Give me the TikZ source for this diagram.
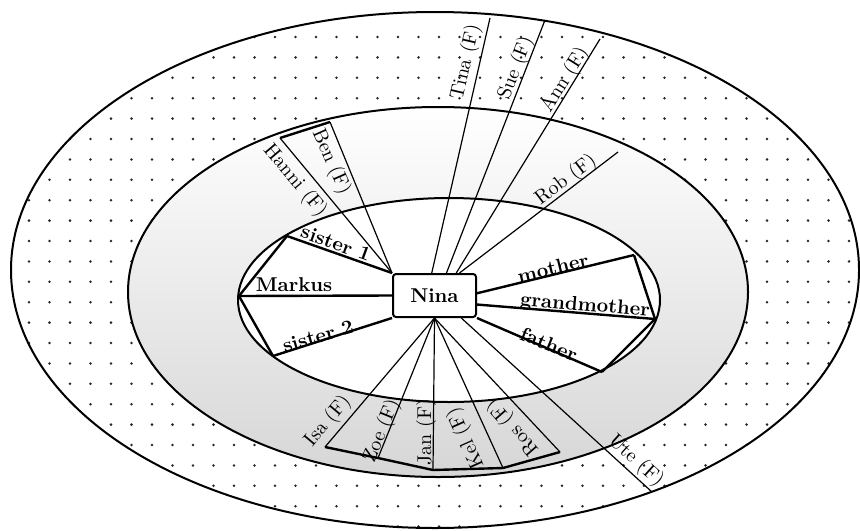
\documentclass[tikz,border=0pt]{standalone}

\begin{document}
\begin{tikzpicture}[
  x=0.5pt,
  y=0.5pt,
  ring/.style={
    line width=1pt
  },
  person/.style={
    rectangle,
    draw,
    line width=1pt,
    rounded corners=1.5pt,
    fill=white,
    minimum width=41.5pt,
    minimum height=21.5pt,
    font=\bfseries
  },
  rel/.style={
    line width=1.2pt
  },
  frd/.style={
    line width=0.6pt
  },
  rlbl/.style={
    font=\bfseries,
    inner sep=0pt
  },
  flbl/.style={
    inner sep=0pt
  },
  spot/.style={
    fill=black!85
  }
]

\useasboundingbox (0,0) rectangle (860,-530);

% =========================================================
% KREISE
% =========================================================

\begin{scope}
  \clip (435,-270) ellipse [x radius=424, y radius=258];
  \foreach \i in {0,...,40}
    \foreach \j in {0,...,24}
      \fill[spot] (29+20.5*\i,-37-20.4*\j) circle [radius=0.7pt];
\end{scope}

\draw[ring] (435,-270) ellipse [x radius=424, y radius=258];

\shade[top color=white, middle color=gray!6, bottom color=gray!32]
  (438,-292) ellipse [x radius=310, y radius=185];
\draw[ring] (438,-292) ellipse [x radius=310, y radius=185];

\fill[white] (449,-300) ellipse [x radius=211, y radius=102];
\draw[ring] (449,-300) ellipse [x radius=211, y radius=102];

% =========================================================
% NINA
% =========================================================

\node[person] (nina) at (434.5,-295.5) {Nina};

% --- Ecken auf dem inneren Kreis ---

\coordinate (sis1) at (287,-236);
\coordinate (markus) at (239,-296);
\coordinate (sis2) at (273,-356);
\coordinate (mother) at (634,-255);
\coordinate (gmother) at (655,-319);
\coordinate (father) at (602,-372);

% --- Enden der Freundeslinien ---

\coordinate (hanni) at (280,-138);
\coordinate (ben) at (330,-122);
\coordinate (tina) at (490,-18);
\coordinate (sue) at (545,-20);
\coordinate (ann) at (600,-39);
\coordinate (rob) at (618,-152);
\coordinate (isa) at (325,-447);
\coordinate (zoe) at (378,-458);
\coordinate (jan) at (433,-470);
\coordinate (kel) at (503,-468);
\coordinate (ros) at (560,-452);
\coordinate (ute) at (652,-492);

% =========================================================
% FAMILIE
% =========================================================

\draw[rel] (nina.north west) -- (sis1);
\draw[rel] (nina.west) -- (markus);
\draw[rel] (nina.south west) -- (sis2);
\draw[rel] (sis1) -- (markus) -- (sis2);

\draw[rel] (nina.3) -- (mother);
\draw[rel] (nina.-12) -- (gmother);
\draw[rel] (nina.south east) -- (father);
\draw[rel] (mother) -- (gmother) -- (father);

\node[rlbl, rotate=-20] (l-sis1) at (336,-243) {sister 1};
\node[rlbl] (l-markus) at (294,-285) {Markus};
\node[rlbl, rotate=16] (l-sis2) at (318,-336) {sister 2};
\node[rlbl, rotate=13.5] (l-mother) at (553,-268) {mother};
\node[rlbl, rotate=-5] (l-gmother) at (585,-306) {grandmother};
\node[rlbl, rotate=-22] (l-father) at (549,-344) {father};

% =========================================================
% FREUNDE
% =========================================================

\draw[frd] (nina.north west) -- (hanni);
\draw[frd] (nina.north west) -- (ben);
\draw[rel] (hanni) -- (ben);
\draw[frd] (nina.97) -- (tina);
\draw[frd] (nina.62) -- (sue);
\draw[frd] (nina.46) -- (ann);
\draw[frd] (nina.42) -- (rob);

\draw[frd] (nina.south) -- (isa);
\draw[frd] (nina.south) -- (zoe);
\draw[frd] (nina.south) -- (jan);
\draw[frd] (nina.south) -- (kel);
\draw[frd] (nina.south) -- (ros);
\draw[frd] (nina.-40) -- (ute);
\draw[rel] (isa) -- (zoe) -- (jan) -- (kel) -- (ros);

\node[flbl, rotate=-50] (l-hanni) at (295,-181) {Hanni (F)};
\node[flbl, rotate=-66] (l-ben) at (331,-162) {Ben (F)};
\node[flbl, rotate=77] (l-tina) at (466,-62) {Tina (F)};
\node[flbl, rotate=69] (l-sue) at (516,-68) {Sue (F)};
\node[flbl, rotate=58] (l-ann) at (565,-80) {Ann (F)};
\node[flbl, rotate=37] (l-rob) at (566,-180) {Rob (F)};

\node[flbl, rotate=50] (l-isa) at (328,-421) {Isa (F)};
\node[flbl, rotate=68] (l-zoe) at (382,-431) {Zoe (F)};
\node[flbl, rotate=90] (l-jan) at (426,-432) {Jan (F)};
\node[flbl, rotate=114] (l-kel) at (466,-438) {Kel (F)};
\node[flbl, rotate=131] (l-ros) at (513,-427) {Ros (F)};
\node[flbl, rotate=-42] (l-ute) at (636,-461) {Ute (F)};

\end{tikzpicture}
\end{document}
